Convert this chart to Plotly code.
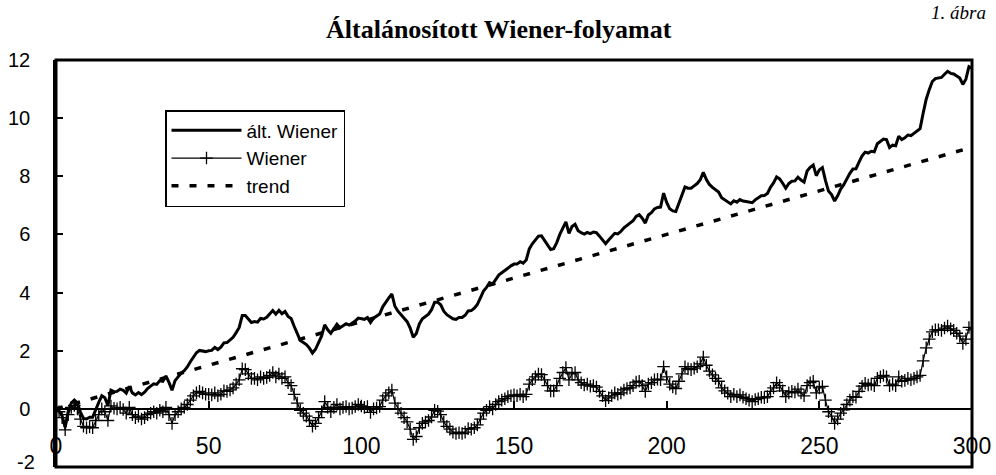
import plotly.graph_objects as go

# ---- data ----
t_values = list(range(0, 301))

wiener = [
    0.00, -0.10, -0.30, -0.72, -0.20, 0.05, 0.12, 0.00, -0.35, -0.60,
    -0.65, -0.62, -0.65, -0.40, -0.20, 0.00, -0.10, -0.40, 0.10, 0.02,
    0.00, 0.05, -0.02, -0.15, 0.05, -0.20, -0.30, -0.25, -0.35, -0.30,
    -0.20, -0.15, -0.10, -0.15, -0.05, -0.10, 0.05, -0.20, -0.50, -0.20,
    -0.10, 0.00, 0.05, 0.15, 0.30, 0.45, 0.55, 0.60, 0.55, 0.50,
    0.50, 0.48, 0.55, 0.45, 0.50, 0.62, 0.60, 0.65, 0.72, 0.85,
    1.00, 1.38, 1.35, 1.20, 1.05, 1.05, 1.00, 1.10, 1.05, 1.08,
    1.15, 1.25, 1.10, 1.20, 1.05, 1.10, 0.90, 0.80, 0.50, 0.20,
    -0.05, -0.15, -0.25, -0.40, -0.60, -0.50, -0.30, -0.10, 0.25, 0.05,
    -0.10, 0.05, 0.15, 0.00, 0.05, 0.08, 0.00, 0.03, 0.08, 0.15,
    0.10, 0.05, 0.08, -0.12, 0.00, 0.03, 0.08, 0.30, 0.45, 0.55,
    0.65, 0.20, 0.00, -0.15, -0.30, -0.45, -0.70, -1.05, -0.95, -0.65,
    -0.50, -0.45, -0.40, -0.28, -0.05, -0.08, -0.20, -0.45, -0.60, -0.70,
    -0.80, -0.85, -0.82, -0.85, -0.80, -0.68, -0.70, -0.65, -0.55, -0.35,
    -0.15, -0.05, 0.08, 0.00, 0.15, 0.25, 0.30, 0.35, 0.42, 0.45,
    0.48, 0.45, 0.50, 0.42, 0.50, 0.85, 1.00, 1.10, 1.20, 1.18,
    1.00, 0.80, 0.62, 0.62, 0.80, 1.05, 1.25, 1.42, 1.00, 1.20,
    1.25, 1.00, 0.90, 0.82, 0.85, 0.78, 0.80, 0.75, 0.60, 0.45,
    0.28, 0.38, 0.45, 0.55, 0.50, 0.55, 0.65, 0.70, 0.72, 0.80,
    0.92, 0.95, 0.80, 0.60, 0.85, 0.90, 1.00, 1.02, 1.00, 1.45,
    1.10, 0.85, 0.75, 0.70, 0.95, 1.20, 1.45, 1.38, 1.35, 1.40,
    1.45, 1.55, 1.78, 1.50, 1.30, 1.17, 1.05, 0.95, 0.72, 0.62,
    0.54, 0.42, 0.50, 0.42, 0.48, 0.40, 0.35, 0.30, 0.25, 0.32,
    0.35, 0.40, 0.38, 0.42, 0.60, 0.72, 0.90, 0.80, 0.62, 0.42,
    0.55, 0.60, 0.58, 0.68, 0.55, 0.45, 0.80, 0.90, 0.95, 0.55,
    0.72, 0.77, 0.30, -0.10, -0.25, -0.50, -0.35, -0.15, -0.03, 0.15,
    0.30, 0.42, 0.40, 0.60, 0.78, 0.88, 0.82, 0.85, 0.80, 1.05,
    1.10, 1.15, 1.10, 0.80, 0.85, 0.80, 1.10, 0.95, 0.98, 1.05,
    1.00, 1.05, 1.10, 1.15, 1.65, 2.10, 2.40, 2.65, 2.72, 2.72,
    2.70, 2.78, 2.85, 2.75, 2.70, 2.60, 2.50, 2.25, 2.40, 2.80,
    2.72,
]

alt_wiener = [
    0.00, -0.07, -0.24, -0.63, -0.08, 0.20, 0.30, 0.21, -0.11, -0.33,
    -0.35, -0.29, -0.29, -0.01, 0.22, 0.45, 0.38, 0.11, 0.64, 0.59,
    0.60, 0.68, 0.64, 0.54, 0.77, 0.55, 0.48, 0.56, 0.49, 0.57,
    0.70, 0.78, 0.86, 0.84, 0.97, 0.95, 1.13, 0.91, 0.64, 0.97,
    1.10, 1.23, 1.31, 1.44, 1.62, 1.80, 1.93, 2.01, 1.99, 1.97,
    2.00, 2.01, 2.11, 2.04, 2.12, 2.27, 2.28, 2.36, 2.46, 2.62,
    2.80, 3.21, 3.21, 3.09, 2.97, 3.00, 2.98, 3.11, 3.09, 3.15,
    3.25, 3.38, 3.26, 3.39, 3.27, 3.35, 3.18, 3.11, 2.84, 2.57,
    2.35, 2.28, 2.21, 2.09, 1.92, 2.05, 2.28, 2.51, 2.89, 2.72,
    2.60, 2.78, 2.91, 2.79, 2.87, 2.93, 2.88, 2.94, 3.02, 3.12,
    3.10, 3.08, 3.14, 2.97, 3.12, 3.18, 3.26, 3.51, 3.69, 3.82,
    3.95, 3.53, 3.36, 3.24, 3.12, 3.00, 2.78, 2.46, 2.59, 2.92,
    3.10, 3.18, 3.26, 3.41, 3.67, 3.67, 3.58, 3.36, 3.24, 3.17,
    3.10, 3.08, 3.14, 3.14, 3.22, 3.37, 3.38, 3.46, 3.59, 3.82,
    4.05, 4.18, 4.34, 4.29, 4.47, 4.60, 4.68, 4.76, 4.86, 4.92,
    4.98, 4.98, 5.06, 5.01, 5.12, 5.50, 5.68, 5.81, 5.94, 5.95,
    5.80, 5.63, 5.48, 5.51, 5.72, 6.00, 6.23, 6.43, 6.04, 6.27,
    6.35, 6.13, 6.06, 6.01, 6.07, 6.03, 6.08, 6.06, 5.94, 5.82,
    5.68, 5.81, 5.91, 6.04, 6.02, 6.10, 6.23, 6.31, 6.36, 6.47,
    6.62, 6.68, 6.56, 6.39, 6.67, 6.75, 6.88, 6.93, 6.94, 7.42,
    7.10, 6.88, 6.81, 6.79, 7.07, 7.35, 7.63, 7.59, 7.59, 7.67,
    7.75, 7.88, 8.14, 7.89, 7.72, 7.62, 7.53, 7.46, 7.26, 7.19,
    7.14, 7.05, 7.16, 7.11, 7.20, 7.15, 7.13, 7.11, 7.09, 7.19,
    7.25, 7.33, 7.34, 7.41, 7.62, 7.77, 7.98, 7.91, 7.76, 7.59,
    7.75, 7.83, 7.84, 7.97, 7.87, 7.80, 8.18, 8.31, 8.39, 8.02,
    8.22, 8.30, 7.86, 7.49, 7.37, 7.15, 7.33, 7.56, 7.71, 7.92,
    8.10, 8.25, 8.26, 8.49, 8.70, 8.83, 8.80, 8.86, 8.84, 9.12,
    9.20, 9.28, 9.26, 8.99, 9.07, 9.05, 9.38, 9.26, 9.32, 9.42,
    9.40, 9.48, 9.56, 9.64, 10.17, 10.65, 10.98, 11.26, 11.36, 11.39,
    11.40, 11.51, 11.61, 11.54, 11.52, 11.45, 11.38, 11.16, 11.34, 11.77,
    11.72,
]

trend_t = [0, 300]
trend_values = [0, 9]

x_tick_values = [0, 50, 100, 150, 200, 250, 300]
x_tick_labels = ["0", "50", "100", "150", "200", "250", "300"]
y_tick_values = [-2, 0, 2, 4, 6, 8, 10, 12]
y_tick_labels = ["", "0", "2", "4", "6", "8", "10", "12"]
y_bottom_label = "-2"

title_text = "Általánosított Wiener-folyamat"
figure_label = "1. ábra"

# ---- figure ----
fig = go.Figure()

fig.add_trace(go.Scatter(
    x=t_values, y=alt_wiener, mode="lines", name="ált. Wiener",
    line=dict(color="black", width=3),
))
fig.add_trace(go.Scatter(
    x=t_values, y=wiener, mode="lines+markers", name="Wiener",
    line=dict(color="black", width=1.2),
    marker=dict(symbol="cross-thin", size=9, color="black",
                line=dict(color="black", width=1.3)),
))
fig.add_trace(go.Scatter(
    x=trend_t, y=trend_values, mode="lines", name="trend",
    line=dict(color="black", width=3.5, dash="7px,11px"),
))

fig.update_layout(
    width=996, height=475,
    margin=dict(l=56, r=24, t=60, b=8, autoexpand=False),
    paper_bgcolor="white", plot_bgcolor="white",
    font=dict(family="Liberation Sans, Arial, sans-serif", color="black"),
    showlegend=True,
    legend=dict(
        x=(165 - 56) / 916, y=(467 - 110) / 407, xanchor="left", yanchor="top",
        bgcolor="white", bordercolor="black", borderwidth=1.5,
        font=dict(size=19, family="Liberation Sans, Arial, sans-serif"),
        itemwidth=70, tracegroupgap=0,
    ),
    xaxis=dict(
        range=[0, 300], anchor="free", position=2 / 14, automargin=False,
        showline=True, linecolor="black", linewidth=2,
        showgrid=False, zeroline=False,
        ticks="inside", ticklen=7, tickwidth=1.5, tickcolor="black",
        tickvals=x_tick_values, ticktext=x_tick_labels,
        tickfont=dict(size=23), ticklabelstandoff=17,
        ticklabeloverflow="allow",
    ),
    yaxis=dict(
        range=[-2, 12], automargin=False,
        showline=True, linecolor="black", linewidth=2.5,
        showgrid=False, zeroline=False,
        ticks="inside", ticklen=7, tickwidth=1.5, tickcolor="black",
        tickvals=y_tick_values, ticktext=y_tick_labels,
        tickfont=dict(size=20), ticklabelstandoff=19,
        ticklabeloverflow="allow",
    ),
    shapes=[dict(type="rect", xref="paper", yref="paper", x0=0, y0=0, x1=1, y1=1,
                 line=dict(color="black", width=3), layer="above")],
    annotations=[
        dict(text="<b>" + title_text + "</b>", xref="paper", yref="paper",
             x=(499 - 56) / 916, y=(467 - 30) / 407, xanchor="center", yanchor="middle",
             showarrow=False,
             font=dict(family="Liberation Serif, Times New Roman, serif", size=26, color="black")),
        dict(text="<i>" + figure_label + "</i>", xref="paper", yref="paper",
             x=(988 - 56) / 916, y=(467 - 0) / 407, xanchor="right", yanchor="top",
             showarrow=False,
             font=dict(family="Liberation Serif, Times New Roman, serif", size=19, color="black")),
        dict(text=y_bottom_label, xref="paper", yref="paper",
             x=(37 - 56) / 916, y=(467 - 475) / 407, xanchor="right", yanchor="bottom",
             showarrow=False,
             font=dict(family="Liberation Sans, Arial, sans-serif", size=20, color="black")),
    ],
)

fig.write_html("out.html", config={"displayModeBar": False},
               post_script="document.body.style.margin='0';")
